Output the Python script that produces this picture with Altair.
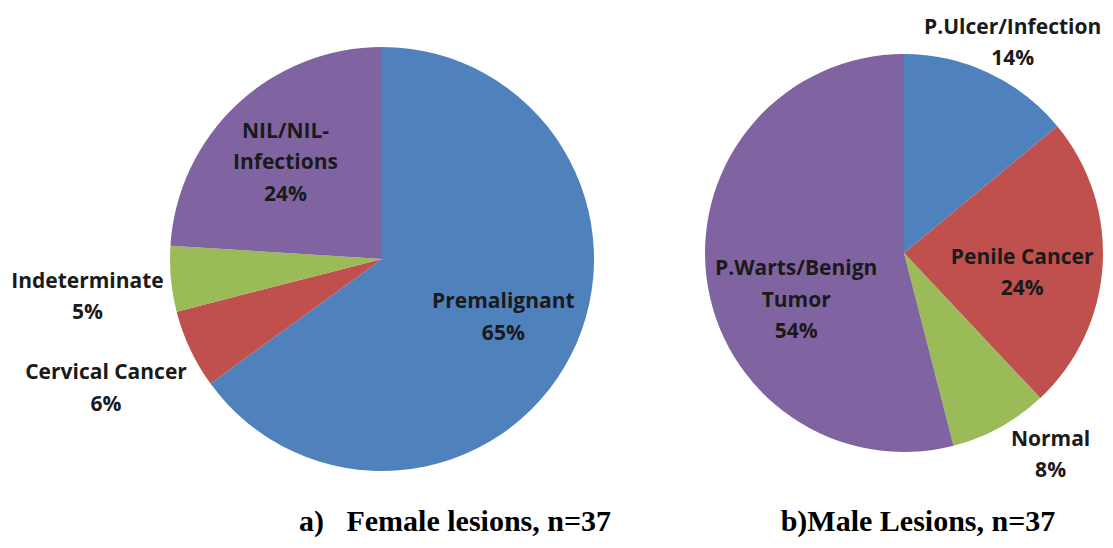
import altair as alt
import pandas as pd

# ---- data ----
female_cats = ["Premalignant", "Cervical Cancer", "Indeterminate", "NIL/NIL-Infections"]
female_vals = [65, 6, 5, 24]
female_text = ["Premalignant\n65%", "Cervical Cancer\n6%", "Indeterminate\n5%", "NIL/NIL-\nInfections\n24%"]

male_cats = ["P.Ulcer/Infection", "Penile Cancer", "Normal", "P.Warts/Benign Tumor"]
male_vals = [14, 24, 8, 54]
male_text = ["P.Ulcer/Infection\n14%", "Penile Cancer\n24%", "Normal\n8%", "P.Warts/Benign\nTumor\n54%"]

captions = ["a)\u00a0\u00a0 Female lesions, n=37", "b)Male Lesions, n=37"]

# ---- style / layout ----
colors = ["#4F81BD", "#C0504D", "#9BBB59", "#8064A2"]
W, H = 1097, 532
female_center = (374, 251)
female_radius = 212
male_center = (896, 245)
male_radius = 199
LINE_H = 31.5
# label placement: (radius in px, angle offset in degrees) from slice mid-angle
female_label = [(135, -1), (305, 0), (297, -2), (136, -2.0)]
male_label = [(236, 2.2), (120, 6.3), (250, -7.1), (118, -16.8)]
caption_pos = [(447, 523), (910, 523)]


def make_df(cats, vals, texts, labels):
    return pd.DataFrame({
        "cat": cats,
        "value": vals,
        "label": texts,
        "idx": list(range(len(cats))),
        "color": colors,
        "lr": [l[0] for l in labels],
        "dth": [l[1] for l in labels],
    })


def pie(df, center, radius):
    cx, cy = center
    base = alt.Chart(df)
    arcs = base.mark_arc(radius=radius, stroke=None).encode(
        theta=alt.Theta("value:Q", stack=True),
        color=alt.Color("color:N", scale=None),
        order=alt.Order("idx:Q", sort="ascending"),
        x=alt.value(cx),
        y=alt.value(cy),
    )
    labels = base.transform_joinaggregate(
        total="sum(value)"
    ).transform_window(
        cum="sum(value)", sort=[alt.SortField("idx", order="ascending")],
        frame=[None, 0]
    ).transform_calculate(
        mid="((datum.cum - datum.value / 2) / datum.total) * 2 * PI + datum.dth * PI / 180",
        nl="split(datum.label, '\\n').length",
    ).transform_calculate(
        lx=f"{cx} + datum.lr * sin(datum.mid)",
        ly=f"{cy} - datum.lr * cos(datum.mid) - (datum.nl - 1) * {LINE_H} / 2",
    ).mark_text(
        font="Open Sans", fontWeight="bold", fontSize=21, color="#1a1a1a",
        lineBreak="\n", lineHeight=LINE_H, align="center", baseline="middle",
    ).encode(
        x=alt.X("lx:Q", scale=None),
        y=alt.Y("ly:Q", scale=None),
        text="label:N",
    )
    return arcs, labels


fa, fl = pie(make_df(female_cats, female_vals, female_text, female_label), female_center, female_radius)
ma, ml = pie(make_df(male_cats, male_vals, male_text, male_label), male_center, male_radius)

cap_df = pd.DataFrame({
    "text": captions,
    "px": [p[0] for p in caption_pos],
    "py": [p[1] for p in caption_pos],
})
caps = alt.Chart(cap_df).mark_text(
    font="Liberation Serif", fontWeight="bold", fontSize=30, color="#000000",
    align="center", baseline="alphabetic",
).encode(
    x=alt.X("px:Q", scale=None),
    y=alt.Y("py:Q", scale=None),
    text="text:N",
)

chart = alt.layer(fa, ma, fl, ml, caps).properties(
    width=W, height=H,
    autosize=alt.AutoSizeParams(type="fit", contains="padding"),
    padding=0,
    background="white",
).configure_view(stroke=None)

chart.save("out.html", embed_options={"renderer": "svg", "actions": False})
